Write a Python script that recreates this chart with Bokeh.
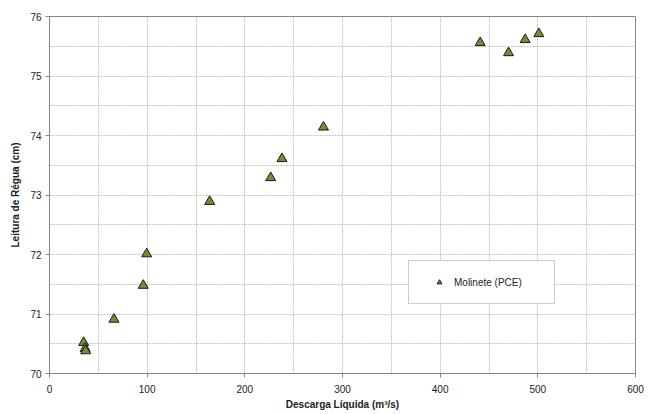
from bokeh.plotting import figure
from bokeh.models import FixedTicker, Legend, LegendItem, Range1d
from bokeh.embed import file_html
from bokeh.resources import INLINE

# Data
descarga = [35, 36.5, 37, 66, 96, 99.5, 164, 226.5, 238, 280.5, 441, 470, 487, 501]
leitura = [70.52, 70.42, 70.38, 70.91, 71.48, 72.01, 72.89, 73.29, 73.61, 74.14, 75.56, 75.39, 75.61, 75.71]
x_ticks = [0, 100, 200, 300, 400, 500, 600]
x_minor = [50, 150, 250, 350, 450, 550]
y_ticks = [70, 71, 72, 73, 74, 75, 76]
y_minor = [70.5, 71.5, 72.5, 73.5, 74.5, 75.5]
serie_nome = "Molinete (PCE)"

FONT = "Liberation Sans"
GRID = "#c4c4c4"
AXIS = "#868686"

p = figure(width=657, height=412, output_backend="svg", toolbar_location=None,
           x_range=Range1d(0, 600), y_range=Range1d(70, 76),
           min_border_left=49, min_border_right=22, min_border_top=16, min_border_bottom=39)
p.background_fill_color = "white"
p.border_fill_color = "white"
p.outline_line_color = AXIS
p.outline_line_width = 1

r = p.scatter(descarga, leitura, marker="triangle", size=10,
              fill_color="#6f8f32", line_color="#1a1a1a", line_width=1)

for ax, ticks, minor in ((p.xaxis[0], x_ticks, x_minor), (p.yaxis[0], y_ticks, y_minor)):
    ax.ticker = FixedTicker(ticks=ticks, minor_ticks=minor)
    ax.axis_line_color = AXIS
    ax.major_tick_line_color = AXIS
    ax.major_tick_out = 4
    ax.major_tick_in = 0
    ax.minor_tick_line_color = None
    ax.major_label_text_font = FONT
    ax.major_label_text_font_size = "10px"
    ax.major_label_text_color = "#222222"
    ax.axis_label_text_font = FONT
    ax.axis_label_text_font_size = "10px"
    ax.axis_label_text_font_style = "bold"
    ax.axis_label_text_color = "#222222"

p.xaxis.axis_label = "Descarga Líquida (m³/s)"
p.yaxis.axis_label = "Leitura de Régua (cm)"
p.xaxis.major_label_standoff = 7
p.xaxis.axis_label_standoff = 3
p.yaxis.major_label_standoff = 4
p.yaxis.axis_label_standoff = 6

for g in (p.xgrid[0], p.ygrid[0]):
    g.grid_line_color = GRID
    g.grid_line_dash = "2 1"
    g.minor_grid_line_color = GRID
    g.minor_grid_line_dash = "2 1"

legend = Legend(items=[LegendItem(label=serie_nome, renderers=[r])],
                location=(359, 69), padding=15, spacing=0,
                glyph_width=30, glyph_height=12, label_height=12, label_width=85,
                label_standoff=0,
                label_text_font=FONT, label_text_font_size="10px",
                label_text_color="#222222",
                border_line_color="#9a9a9a", border_line_width=1,
                background_fill_color="white", background_fill_alpha=1.0,
                margin=0)
p.add_layout(legend)

open("out.html", "w").write(file_html(p, INLINE))
